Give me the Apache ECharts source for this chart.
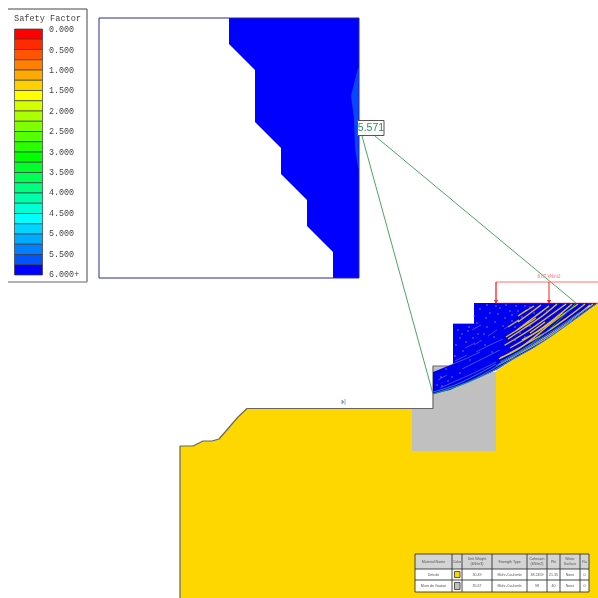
<!DOCTYPE html>
<html><head><meta charset="utf-8">
<style>html,body{margin:0;padding:0;background:#fff}#c{width:598px;height:598px}</style>
<script src="https://cdn.jsdelivr.net/npm/echarts@6/dist/echarts.min.js"></script>
</head><body><div id="c"></div>
<script>
// Legend
const legendColors=['#ff0000','#ff2a00','#ff5500','#ff8000','#ffaa00','#ffd000','#ffff00','#d4ff00','#aaff00','#80ff00','#55ff00','#2aff00','#00ff00','#00ff2a','#00ff55','#00ff80','#00ffaa','#00ffd4','#00ffff','#00d4ff','#00aaff','#0080ff','#0055ff','#0000ff'];
const legendLabels=['0.000','0.500','1.000','1.500','2.000','2.500','3.000','3.500','4.000','4.500','5.000','5.500','6.000+'];
const legendTitle='Safety Factor';
// Inset grid of slip centres
const insetFrame=[[99,18],[359,18],[359,278],[99,278]];
const insetBlue=[[229,18],[359,18],[359,278],[333,278],[333,252],[307,226],[307,200],[281,174],[281,148],[255,122],[255,70],[229,44]];
const insetLighter=[[358,68],[351,96],[354,118],[355,148],[358,168],[359,168],[359,68]];
const fsLabel='5.571';
const greenLines=[[[362,136],[433,394]],[[375,136],[576,303]]];
const criticalSlip=[[433,394],[470,381],[510,358],[545,333],[576,303]];
// Slope section
const groundPoly=[[180,446],[193,446],[203,441],[212,441],[219,439],[238,417],[247,408.5],[412,408.5],[412,451],[496,451],[496,371],[515,358],[533,348],[550,337],[567,325],[585,312],[598,303],[598,598],[180,598]];
const wallPoly=[[412,408.5],[433,408.5],[433,366],[453,366],[453,372],[496,372],[496,451],[412,451]];
const outline=[[180,598],[180,446],[193,446],[203,441],[212,441],[219,439],[238,417],[247,408.5],[433,408.5],[433,366],[453,366]];
const stepTop=[[453,324],[474,324]];
const fanPoly=[[433,394],[433,372],[453,364],[453,324],[474,324],[474,303],[598,303],[585,312],[567,325],[550,337],[533,348],[515,358],[496,370],[480,377],[461,385],[450,390]];
const yellowStreaks=[
[[593,304],[578,315],[560,329],[540,342],[518,354],[498,365]],
[[590,305],[567,323],[533,345],[500,364]],
[[585,304],[568,317],[548,331],[526,344],[499,359]],
[[578,304],[553,322],[520,348],[500,358]],
[[572,304],[554,319],[535,333],[510,348]],
[[566,304],[548,317],[528,331],[505,345]],
[[563,312],[543,328],[522,340]],
[[557,304],[541,317],[523,329],[508,339]],
[[549,306],[533,318],[517,330]],
[[541,305],[529,314],[518,322]],
[[536,318],[522,327],[506,337]],
[[519,320],[508,327]],
[[527,310],[518,316]],
[[534,306],[524,312]],
[[545,322],[530,333]]];
const blueEdges=[
[[597,303],[585,312],[567,325],[550,337],[533,348],[515,358],[496,370]],
[[588,308],[570,321],[550,335],[530,347],[510,358],[496,366]],
[[580,312],[560,326],[540,339],[520,351],[500,362]],
[[433,394],[461,385],[480,377],[496,369],[515,357]],
[[433,392],[455,385],[476,375],[496,364]]];
const greyStreaks=[
[[496,362],[478,371],[458,380],[440,388]],
[[500,350],[480,360],[462,369]],
[[480,352],[465,359],[450,365]],
[[503,339],[490,345],[476,352]],
[[482,340],[474,345]],
[[497,330],[488,336]],
[[515,322],[504,329]],
[[467,355],[455,361]],
[[447,375],[438,380]],
[[481,325],[472,330]],
[[475,343],[465,348]]];
const speckles=[[480,309],[490,313],[500,308],[510,311],[516,306],[525,306],[505,318],[495,322],[487,327],[478,334],[468,331],[460,338],[456,345],[466,342],[474,316],[498,314],[512,315],[530,307],[470,360],[441,377],[448,381],[460,373],[437,385],[485,345],[492,352],[505,345],[515,340],[525,337],[538,324],[547,311],[534,313],[520,333],[486,318],[477,323],[469,327],[462,334],[458,330],[503,326],[512,321],[494,337],[484,334],[473,338],[463,351],[455,356],[446,369],[442,386],[452,377],[530,326],[541,312],[522,317],[515,327],[506,305],[496,306],[487,305],[518,311]];
const loadOutline=[[496,303],[496,282],[598,282]];
const loadArrows=[[[496,282],[496,303]],[[549,282],[549,303]]];
const loadLabel='8.87 kN/m2';
// Materials table
const tableHeader=['Material Name','Color','Unit Weight\n(kN/m3)','Strength Type','Cohesion\n(kN/m2)','Phi','Water\nSurface','Ru'];
const rowA=['Detrale','','30.49','Mohr-Coulomb','38.2459','21.35','None','0'];
const rowB=['Mure de Gavion','','35.67','Mohr-Coulomb','98','40','None','0'];
const colEdges=[415,452,462,492,527,547,560,580,589];
const rowEdges=[554,569,580,592];
const swatchColors=['#ffd700','#c0c0c0'];

function poly(points,fill,stroke,lw,z){return {type:'custom',coordinateSystem:'cartesian2d',silent:true,z:z||2,clip:false,data:[0],
 encode:{x:[],y:[]},
 renderItem:(p,api)=>({type:'polygon',shape:{points:points.map(q=>api.coord(q))},style:{fill:fill||'none',stroke:stroke||'none',lineWidth:lw||0}})};}
function line(points,color,w,z,smooth,op){return {type:'line',data:points,symbol:'none',smooth:smooth?0.4:false,silent:true,z:z||3,
 lineStyle:{color:color,width:w,opacity:op==null?1:op},clip:false,animation:false};}
function text(x,y,t,font,fill,align,z){return {type:'custom',coordinateSystem:'cartesian2d',silent:true,z:z||9,clip:false,data:[0],encode:{x:[],y:[]},
 renderItem:(p,api)=>{const c=api.coord([x,y]);return {type:'text',x:c[0],y:c[1],style:{text:t,font:font,fill:fill,textAlign:align||'left',textVerticalAlign:'middle',lineHeight:5}};}};}
function rect(x0,y0,x1,y1,fill,stroke,lw,z){return poly([[x0,y0],[x1,y0],[x1,y1],[x0,y1]],fill,stroke,lw,z);}

const s=[];
// legend
s.push(rect(8,9,87,282,'#ffffff',null,0,2));
s.push(line([[8,9],[87,9],[87,282]],'#444',1,3));
s.push(line([[87,282],[8,282]],'#999',1.5,3));
const cellH=(275-29)/legendColors.length;
legendColors.forEach((c,i)=>s.push(rect(14.5,29+i*cellH,42.5,29+(i+1)*cellH,c,'#3a3a3a',0.7,4)));
s.push(text(47.5,19,legendTitle,'8.6px "Liberation Mono"','#444','center'));
legendLabels.forEach((l,i)=>s.push(text(49,30+i*20.4,l,'8.4px "Liberation Mono"','#444')));
// inset
s.push(poly(insetBlue,'#0000ff',null,0,3));
s.push(poly(insetLighter,'#0a46ff',null,0,4));
s.push(poly(insetFrame,'none','#2a2a90',1,5));
// section
s.push(poly(groundPoly,'#ffd700',null,0,2));
s.push(poly(wallPoly,'#c0c0c0',null,0,2));
s.push(line(outline,'#666',1.2,4));
s.push(line(stepTop,'#777',1.2,4));
s.push(poly(fanPoly,'#0000f0',null,0,5));
blueEdges.forEach(a=>s.push(line(a,'#2f78dc',1,7,true)));
yellowStreaks.forEach(a=>s.push(line(a,'#e0c030',1.4,6,true)));
greyStreaks.forEach(a=>s.push(line(a,'#7070d8',0.7,6,true)));
s.push({type:'scatter',data:speckles,symbol:'rect',symbolSize:1.3,z:6,silent:true,itemStyle:{color:'#8f8db8'}});
s.push(line(criticalSlip,'#2e9a50',0.9,8,true));
greenLines.forEach(a=>s.push(line(a,'#3a9a55',0.9,8)));
// label
s.push(rect(357.5,120.5,384,135.5,'#ffffff','#555',1,8));
s.push(text(371,128,fsLabel,'10.5px "Liberation Sans"','#2a8f55','center'));
// load
s.push(line(loadOutline,'#ff7070',1,8));
s.push(line([[496,303],[598,303]],'#ff3030',0.7,8,false,0.7));
loadArrows.forEach(a=>{s.push(line(a,'#ff2020',1,8));
 const x=a[0][0];s.push(poly([[x-2,300],[x+2,300],[x,303.5]],'#ff0000',null,0,8));});
s.push(text(549,277,loadLabel,'4.5px "Liberation Sans"','#ff7070','center'));
// small marker on bench
s.push(line([[345,399],[345,405]],'#7f9fc8',0.8,4));
s.push(poly([[341.5,399.5],[344.5,402],[341.5,404.5]],'#7f9fc8',null,0,4));
// table
s.push(rect(colEdges[0],rowEdges[0],colEdges[8],rowEdges[1],'#d4d4d4',null,0,8));
s.push(rect(colEdges[0],rowEdges[1],colEdges[8],rowEdges[3],'#ffffff',null,0,8));
rowEdges.forEach(y=>s.push(line([[colEdges[0],y],[colEdges[8],y]],'#333',0.9,9)));
colEdges.forEach(x=>s.push(line([[x,rowEdges[0]],[x,rowEdges[3]]],'#333',0.9,9)));
[tableHeader,rowA,rowB].forEach((row,r)=>row.forEach((t,c)=>{ if(t) s.push(text((colEdges[c]+colEdges[c+1])/2,(rowEdges[r]+rowEdges[r+1])/2,t,'3.6px "Liberation Sans"','#555','center',10));}));
swatchColors.forEach((c,i)=>s.push(rect(454.5,rowEdges[i+1]+2.5,460,rowEdges[i+2]-2.5,c,'#333',0.8,10)));

const chart=echarts.init(document.getElementById('c'),null,{renderer:'canvas'});
chart.setOption({animation:false,backgroundColor:'#ffffff',tooltip:{show:false},legend:{show:false},
 grid:{left:0,right:0,top:0,bottom:0,containLabel:false},
 xAxis:{type:'value',min:0,max:598,show:false},
 yAxis:{type:'value',min:0,max:598,inverse:true,show:false},
 series:s});
</script></body></html>
